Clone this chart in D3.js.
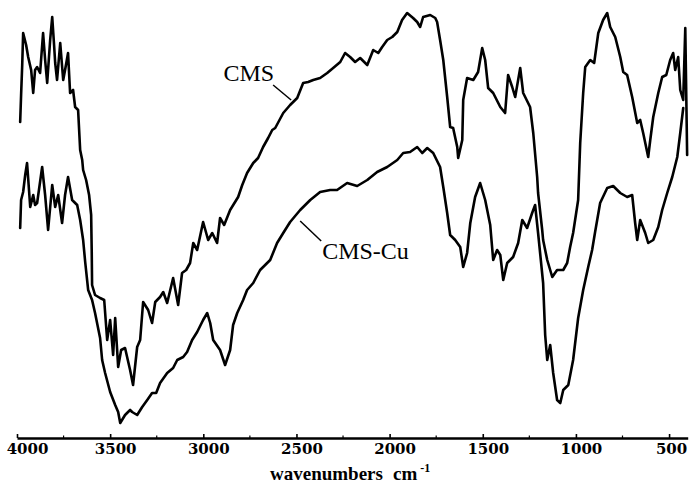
<!DOCTYPE html>
<html>
<head>
<meta charset="utf-8">
<script src="https://cdn.jsdelivr.net/npm/d3@7"></script>
<style>
  html, body { margin: 0; padding: 0; background: #fff; }
  svg { display: block; }
</style>
</head>
<body>
<svg id="chart" width="690" height="483"></svg>
<script>
// FT-IR spectra of CMS and CMS-Cu (relative transmittance, arbitrary units)
const cmsWavenumber = [3983,3978,3972,3967,3951,3940,3924,3913,3903,3892,3876,3860,3849,3838,3822,3811,3801,3795,3785,3768,3752,3742,3726,3715,3699,3688,3672,3661,3650,3645,3629,3613,3602,3599,3597,3581,3554,3532,3516,3500,3484,3473,3457,3441,3420,3393,3377,3355,3339,3323,3296,3275,3258,3232,3215,3194,3162,3135,3114,3092,3071,3054,3033,3001,2974,2952,2926,2910,2888,2856,2813,2791,2765,2732,2706,2679,2652,2630,2614,2571,2534,2496,2464,2437,2410,2373,2335,2303,2265,2239,2212,2185,2158,2120,2088,2061,2040,2013,1986,1959,1933,1906,1874,1852,1836,1820,1782,1755,1745,1729,1712,1691,1675,1659,1637,1632,1610,1605,1584,1551,1525,1503,1487,1471,1444,1406,1380,1364,1342,1326,1299,1283,1246,1229,1208,1203,1181,1176,1154,1127,1101,1068,1047,1031,1015,988,977,961,950,923,902,880,854,832,816,789,762,746,725,698,671,655,639,612,601,585,558,537,515,494,478,467,451,440,424,413,403];
const cmsTransmittance = [316,343,373,405,393,381,368,345,368,371,365,405,378,355,398,421,393,375,358,395,358,368,385,345,348,331,328,288,278,268,258,243,223,188,153,143,140,138,98,118,83,120,71,88,90,68,53,91,98,136,128,115,136,141,146,135,160,133,165,168,175,195,188,216,198,205,195,220,213,228,241,253,265,275,280,291,300,308,310,325,333,340,355,356,358,360,365,370,376,385,381,376,380,373,388,385,391,398,401,406,418,425,420,416,411,421,423,420,416,398,378,341,311,310,291,280,298,338,360,358,366,390,378,350,345,331,325,363,351,341,370,345,331,305,261,245,208,198,178,161,168,168,175,191,205,238,295,345,371,378,375,405,418,425,411,401,381,366,363,341,315,318,305,281,298,321,345,361,363,378,385,368,381,348,338,410,283];

const cuWavenumber = [3983,3978,3967,3956,3946,3929,3913,3903,3892,3865,3849,3833,3811,3795,3779,3758,3742,3726,3704,3677,3661,3645,3634,3618,3597,3581,3554,3543,3527,3500,3473,3457,3446,3420,3393,3382,3355,3328,3301,3275,3253,3232,3194,3162,3140,3108,3087,3060,3033,3001,2979,2963,2947,2910,2883,2856,2840,2818,2786,2765,2732,2695,2641,2604,2571,2534,2480,2426,2373,2319,2282,2228,2174,2120,2067,2013,1959,1927,1890,1852,1825,1798,1766,1729,1712,1691,1675,1648,1621,1605,1584,1567,1541,1514,1487,1460,1444,1423,1406,1390,1369,1337,1310,1288,1262,1235,1219,1203,1176,1165,1154,1138,1122,1101,1084,1068,1041,1015,988,961,934,913,897,870,832,800,762,725,698,682,671,655,628,612,585,558,537,510,483,456,440,424];
const cuTransmittance = [210,238,246,263,275,231,243,233,235,271,243,208,253,231,243,215,243,261,238,233,218,198,176,148,138,125,100,78,65,46,33,26,15,23,28,26,23,31,38,45,45,55,65,70,78,81,86,98,106,118,125,115,98,88,73,88,113,125,138,148,155,168,178,195,205,216,228,238,246,248,248,255,252,258,266,271,278,285,286,291,285,290,285,271,251,225,203,198,191,171,185,215,241,255,238,213,178,188,183,158,175,181,195,218,210,225,233,205,155,103,78,93,65,38,35,48,53,78,120,148,171,188,206,235,250,252,245,241,243,215,198,218,205,195,198,211,228,245,261,281,305,330];

const seriesNames = ["CMS", "CMS-Cu"];
const tickValues = [4000, 3500, 3000, 2500, 2000, 1500, 1000, 500];
const tickLabels = ["4000", "3500", "3000", "2500", "2000", "1500", "1000", "500"];
const minorTickValues = [3750, 3250, 2750, 2250, 1750, 1250, 750];
const axisTitle = "wavenumbers";
const axisUnit = "cm";
const axisUnitExp = "-1";

const svg = d3.select("#chart");

const x = d3.scaleLinear().domain([4000, 400]).range([17, 687.7]);
const y = d3.scaleLinear().domain([0, 438]).range([438, 0]);

const cmsData = cmsWavenumber.map((w, i) => ({ w, t: cmsTransmittance[i] }));
const cuData = cuWavenumber.map((w, i) => ({ w, t: cuTransmittance[i] }));

const line = d3.line()
  .x(d => x(d.w))
  .y(d => y(d.t))
  .curve(d3.curveLinear);

const spectra = svg.append("g").attr("class", "spectra");
[cmsData, cuData].forEach(data => {
  spectra.append("path")
    .datum(data)
    .attr("d", line)
    .attr("fill", "none")
    .attr("stroke", "#000")
    .attr("stroke-width", 2.6)
    .attr("stroke-linejoin", "round")
    .attr("stroke-linecap", "round");
});

// Bottom axis: ticks point up into the plot
const axis = d3.axisBottom(x)
  .tickValues(tickValues)
  .tickFormat((d, i) => tickLabels[i])
  .tickSizeInner(-4)
  .tickSizeOuter(0)
  .tickPadding(5);

const axisG = svg.append("g")
  .attr("transform", "translate(0,438)")
  .call(axis);

axisG.select(".domain")
  .attr("stroke", "#000")
  .attr("stroke-width", 2.4);
axisG.selectAll(".tick line")
  .attr("stroke", "#000")
  .attr("stroke-width", 1.6);
axisG.selectAll(".tick text")
  .attr("dx", (d, i) => i === 0 ? 10 : (i === tickValues.length - 1 ? 2 : 5))
  .attr("fill", "#000")
  .style("font-family", "'DejaVu Serif', serif")
  .style("font-weight", "bold")
  .style("font-size", "15px");

axisG.selectAll(".minor")
  .data(minorTickValues)
  .enter().append("line")
  .attr("class", "minor")
  .attr("x1", d => x(d)).attr("x2", d => x(d))
  .attr("y1", 0).attr("y2", -2.5)
  .attr("stroke", "#000")
  .attr("stroke-width", 1.2);

// Axis title
const title = svg.append("text")
  .attr("x", 270)
  .attr("y", 480)
  .attr("fill", "#000")
  .style("font-family", "'Liberation Serif', 'Times New Roman', serif")
  .style("font-weight", "bold")
  .style("font-size", "19px");
title.append("tspan").text(axisTitle);
title.append("tspan").attr("dx", 10).text(axisUnit);
title.append("tspan").attr("dx", 3).attr("dy", -8).style("font-size", "12px").text(axisUnitExp);

// Series labels with leader lines anchored on the curves
function pointAt(data, w) {
  const d = data.find(p => p.w === w);
  return [x(d.w), y(d.t)];
}

const labelFont = "'Liberation Serif', 'Times New Roman', serif";

const [ax1, ay1] = pointAt(cmsData, 2534);
svg.append("line")
  .attr("x1", ax1 - 17).attr("y1", ay1 - 20)
  .attr("x2", ax1 + 1).attr("y2", ay1 - 5)
  .attr("stroke", "#000").attr("stroke-width", 1.5);
svg.append("text")
  .attr("x", ax1 - 16).attr("y", ay1 - 24)
  .attr("text-anchor", "end")
  .attr("fill", "#000")
  .style("font-family", labelFont)
  .style("font-size", "24px")
  .text(seriesNames[0]);

const [ax2, ay2] = pointAt(cuData, 2480);
svg.append("line")
  .attr("x1", ax2).attr("y1", ay2 + 11)
  .attr("x2", ax2 + 21).attr("y2", ay2 + 31)
  .attr("stroke", "#000").attr("stroke-width", 1.5);
svg.append("text")
  .attr("x", ax2 + 22).attr("y", ay2 + 49)
  .attr("fill", "#000")
  .style("font-family", labelFont)
  .style("font-size", "24px")
  .text(seriesNames[1]);
</script>
</body>
</html>
